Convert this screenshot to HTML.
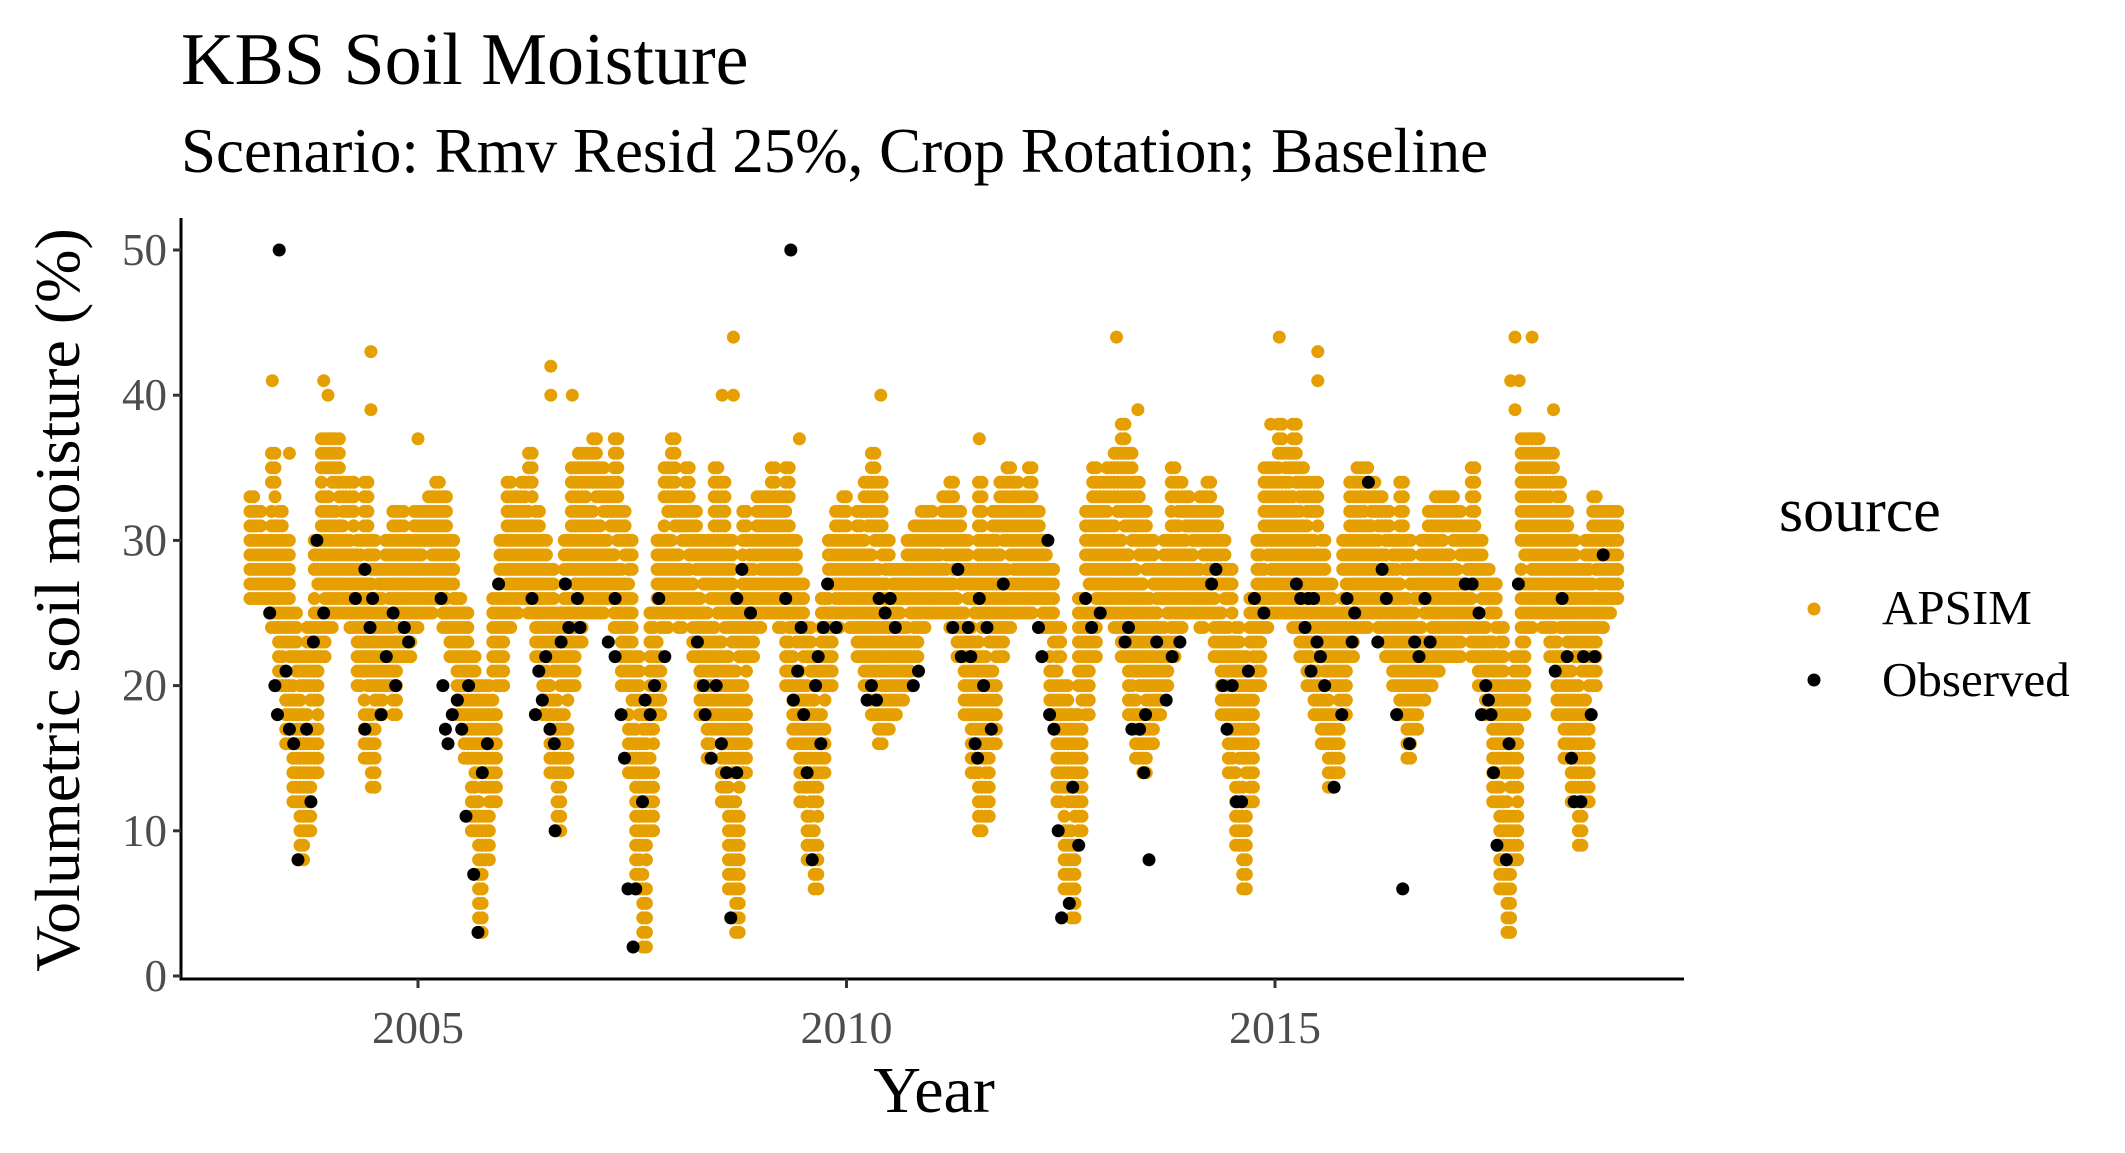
<!DOCTYPE html>
<html><head><meta charset="utf-8"><style>
html,body{margin:0;padding:0;background:#fff}
svg{display:block}
text{font-family:"Liberation Serif",serif}
</style></head><body>
<svg id="chart" width="2125" height="1153" viewBox="0 0 2125 1153" xmlns="http://www.w3.org/2000/svg">
<rect width="2125" height="1153" fill="#fff"/>
<text x="181" y="84" font-size="74" fill="#000">KBS Soil Moisture</text>
<text x="181" y="172" font-size="63" fill="#000">Scenario: Rmv Resid 25%, Crop Rotation; Baseline</text>
<g id="apsim"></g>
<g id="obs"></g>
<g id="axes"></g>
<text transform="translate(79,600) rotate(-90)" text-anchor="middle" font-size="64" fill="#000">Volumetric soil moisture (%)</text>
<text x="934" y="1112" text-anchor="middle" font-size="66" fill="#000">Year</text>
<g>
<text x="1779" y="531" font-size="62" fill="#000">source</text>
<circle cx="1814" cy="609" r="6.5" fill="#E69F00"/>
<text x="1882" y="624" font-size="49" fill="#000">APSIM</text>
<circle cx="1814" cy="680" r="6.5" fill="#000"/>
<text x="1882" y="696" font-size="49" fill="#000">Observed</text>
</g>
</svg>
<script>
const yTicks=[0,10,20,30,40,50];
const xTicks=[2005,2010,2015];
const apsimLow=[
26,26,26,24,20,16,12,8,10,14,22,24,
25,25,24,20,15,13,18,20,18,22,22,24,
25,25,26,24,22,18,15,10,3,8,12,20,
24,25,26,25,22,18,14,10,14,20,23,25,
25,25,26,24,20,14,6,2,10,18,24,25,
24,25,22,18,15,17,12,6,3,14,22,24,
25,25,24,20,16,12,8,6,14,20,24,25,
24,22,20,18,16,17,18,19,20,22,24,25,
25,25,24,22,18,14,10,11,16,22,24,25,
25,25,26,24,18,12,6,4,10,18,22,25,
25,24,22,18,15,14,16,18,20,22,24,25,
25,24,25,22,18,14,9,6,12,20,24,25,
25,25,24,22,20,18,16,13,14,18,22,24,
24,25,24,22,20,18,15,17,19,20,21,22,
22,22,24,22,20,18,12,6,3,8,18,24,
25,24,22,18,15,12,9,12,20,24,25,26];
const apsimHigh=[
33,32,30,36,32,30,25,22,24,30,37,37,
37,34,34,30,34,30,28,30,32,32,30,32,
32,33,34,33,30,26,25,22,20,20,26,30,
34,33,34,36,32,30,28,25,30,35,36,36,
37,35,34,37,32,30,22,18,25,30,35,37,
33,35,32,30,30,35,34,30,26,32,30,33,
33,35,33,35,30,27,24,22,26,30,32,33,
30,32,34,36,34,30,28,28,30,31,32,32,
31,33,34,32,30,28,34,30,32,34,35,34,
33,35,32,30,28,24,20,18,26,32,35,34,
35,36,38,36,34,32,30,28,30,35,34,33,
32,33,34,32,30,28,24,22,26,30,35,35,
38,36,38,35,34,34,30,27,25,30,34,35,
35,34,33,32,30,34,30,28,30,32,33,33,
33,32,31,35,30,28,27,24,20,22,37,37,
37,36,36,34,32,30,28,30,33,32,32,32];
const apsimStartYear=2003.04;
const apsimExtraYear=[2003.3,2003.5,2003.9,2003.95,2004.45,2004.45,2005.0,2006.55,2006.55,2006.8,2008.55,2008.68,2008.68,2009.45,2010.4,2013.15,2013.4,2015.05,2015.5,2015.5,2017.8,2018.0,2017.75,2017.8,2018.25,2011.55,2014.95,2017.85];
const apsimExtraVal=[41,36,41,40,43,39,37,42,40,40,40,44,40,37,40,44,39,44,43,41,44,44,41,39,39,37,38,41];
const obsYear=[2003.38,2003.27,2003.33,2003.36,2003.46,2003.5,2003.55,2003.6,2003.7,2003.75,2003.78,2003.82,2003.9,2004.27,2004.38,2004.38,2004.44,2004.47,2004.57,2004.63,2004.71,2004.74,2004.84,2004.89,2005.27,2005.29,2005.32,2005.35,2005.4,2005.46,2005.51,2005.56,2005.59,2005.65,2005.7,2005.75,2005.81,2005.94,2006.33,2006.37,2006.41,2006.45,2006.49,2006.54,2006.59,2006.6,2006.67,2006.72,2006.76,2006.86,2006.89,2007.22,2007.3,2007.3,2007.37,2007.41,2007.45,2007.54,2007.51,2007.62,2007.65,2007.71,2007.76,2007.81,2007.88,2008.26,2008.33,2008.35,2008.42,2008.48,2008.54,2008.6,2008.65,2008.72,2008.72,2008.78,2008.88,2009.29,2009.35,2009.38,2009.43,2009.47,2009.5,2009.54,2009.6,2009.64,2009.67,2009.7,2009.73,2009.78,2009.88,2010.24,2010.29,2010.35,2010.38,2010.45,2010.51,2010.57,2010.78,2010.84,2011.3,2011.24,2011.34,2011.42,2011.45,2011.5,2011.53,2011.55,2011.6,2011.64,2011.69,2011.83,2012.24,2012.28,2012.35,2012.37,2012.42,2012.47,2012.51,2012.6,2012.64,2012.71,2012.79,2012.86,2012.96,2013.25,2013.29,2013.33,2013.42,2013.47,2013.49,2013.53,2013.62,2013.73,2013.8,2013.89,2014.26,2014.31,2014.39,2014.44,2014.5,2014.55,2014.61,2014.69,2014.76,2014.87,2015.25,2015.3,2015.35,2015.39,2015.42,2015.45,2015.49,2015.53,2015.58,2015.69,2015.78,2015.84,2015.9,2015.93,2016.09,2016.2,2016.25,2016.3,2016.42,2016.49,2016.57,2016.63,2016.68,2016.75,2016.81,2017.22,2017.3,2017.38,2017.41,2017.46,2017.49,2017.52,2017.55,2017.59,2017.7,2017.73,2017.84,2018.27,2018.35,2018.41,2018.46,2018.49,2018.57,2018.6,2018.69,2018.73,2018.83];
const obsVal=[50,25,20,18,21,17,16,8,17,12,23,30,25,26,28,17,24,26,18,22,25,20,24,23,26,20,17,16,18,19,17,11,20,7,3,14,16,27,26,18,21,19,22,17,16,10,23,27,24,26,24,23,26,22,18,15,6,6,2,12,19,18,20,26,22,23,20,18,15,20,16,14,4,14,26,28,25,26,50,19,21,24,18,14,8,20,22,16,24,27,24,19,20,19,26,25,26,24,20,21,28,24,22,24,22,16,15,26,20,24,17,27,24,22,30,18,17,10,4,5,13,9,26,24,25,23,24,17,17,14,18,8,23,19,22,23,27,28,20,17,20,12,12,21,26,25,27,26,24,26,21,26,23,22,20,13,18,26,23,25,34,23,28,26,18,6,16,23,22,26,23,27,27,25,18,20,19,18,14,9,8,16,27,21,26,22,15,12,12,22,18,22,29];

const NS='http://www.w3.org/2000/svg';
const X0=181,X1=1684,Y0=979;
function xScale(yr){return 418+(yr-2005)*85.7;}
function yScale(v){return 976-v*14.52;}
function mk(tag,attrs,parent){const e=document.createElementNS(NS,tag);for(const k in attrs)e.setAttribute(k,attrs[k]);parent.appendChild(e);return e;}

const ga=document.getElementById('apsim');
for(let i=0;i<apsimLow.length;i++){
  const yr=apsimStartYear+i/12;
  for(let k=0;k<2;k++){
    const cx=xScale(yr+k/24);
    for(let v=apsimLow[i];v<=apsimHigh[i];v++){
      if(v>apsimLow[i]+3 && v<apsimHigh[i]-2 && ((v+i+k)%9===0)) continue;
      const c=mk('circle',{cx:cx.toFixed(1),cy:yScale(v).toFixed(1),r:6.5,fill:'#E69F00'},ga);
      
      
    }
  }
}
for(let i=0;i<apsimExtraYear.length;i++){
  const c=mk('circle',{cx:xScale(apsimExtraYear[i]).toFixed(1),cy:yScale(apsimExtraVal[i]).toFixed(1),r:6.5,fill:'#E69F00'},ga);
  
  
}
const go=document.getElementById('obs');
for(let i=0;i<obsYear.length;i++){
  const c=mk('circle',{cx:xScale(obsYear[i]).toFixed(1),cy:yScale(obsVal[i]).toFixed(1),r:6.5,fill:'#000'},go);
  
  
}
const ax=document.getElementById('axes');
const yl=mk('line',{x1:X0,y1:218,x2:X0,y2:Y0+1.5,stroke:'#000','stroke-width':3},ax);


const xl=mk('line',{x1:X0-1.5,y1:Y0,x2:X1,y2:Y0,stroke:'#000','stroke-width':3},ax);


yTicks.forEach(v=>{
  const y=yScale(v);
  const t=mk('line',{x1:X0-8,y1:y,x2:X0,y2:y,stroke:'#333','stroke-width':3},ax);
  
  
  const l=mk('text',{x:X0-14,y:y+15,'text-anchor':'end','font-size':45,fill:'#4d4d4d'},ax);
  l.textContent=v;
  
  
});
xTicks.forEach(v=>{
  const x=xScale(v);
  const t=mk('line',{x1:x,y1:Y0,x2:x,y2:Y0+9,stroke:'#333','stroke-width':3},ax);
  
  
  const l=mk('text',{x:x,y:1043,'text-anchor':'middle','font-size':46,fill:'#4d4d4d'},ax);
  l.textContent=v;
  
  
});
</script>
</body></html>
